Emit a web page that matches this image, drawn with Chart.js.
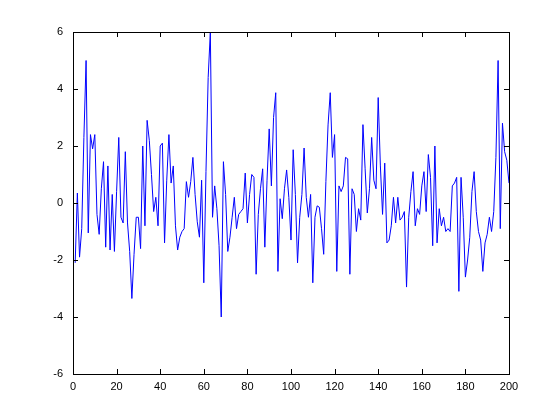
<!DOCTYPE html>
<html><head><meta charset="utf-8">
<script src="https://cdn.jsdelivr.net/npm/chart.js@4"></script>
<style>html,body{margin:0;padding:0;background:#fff}</style>
</head><body>
<canvas id="c" width="560" height="420"></canvas>
<script>
const xTicks = [0, 20, 40, 60, 80, 100, 120, 140, 160, 180, 200];
const yTicks = [-6, -4, -2, 0, 2, 4, 6];
const values = [
  -2.1, 0.35, -1.9, -0.9, 2.3, 5.0, -1.05, 2.4, 1.9, 2.4,
  -0.4, -1.1, 0.5, 1.45, -1.55, 1.3, -1.65, 0.3, -1.7, 0.4,
  2.3, -0.5, -0.7, 1.8, -0.7, -1.7, -3.35, -1.8, -0.5, -0.5,
  -1.6, 2.0, -0.8, 2.9, 2.2, 1.0, -0.3, 0.2, -0.8, 2.0,
  2.1, -1.4, 0.8, 2.4, 0.7, 1.3, -0.8, -1.65, -1.2, -1.0,
  -0.9, 0.75, 0.2, 0.75, 1.6, 0.3, -0.66, -1.2, 0.8, -2.8,
  1.1, 4.4, 6.0, -0.5, 0.6, -0.2, -1.5, -4.0, 1.45, 0.3,
  -1.7, -1.2, -0.5, 0.2, -0.9, -0.4, -0.3, -0.2, 1.05, -0.7,
  0.3, 1.0, 0.9, -2.5, -0.4, 0.5, 1.2, -1.55, 0.8, 2.6,
  0.6, 3.0, 3.87, -2.4, 0.15, -0.55, 0.5, 1.16, 0.2, -1.3,
  1.87, 0.3, -2.1, -0.5, 0.3, 1.93, 0.2, -0.5, 0.3, -2.8,
  -0.5, -0.1, -0.15, -0.9, -1.8, 0.75, 2.74, 3.87, 1.6, 2.4,
  -2.4, 0.6, 0.4, 0.6, 1.6, 1.55, -2.5, 0.5, 0.3, -1.0,
  -0.2, -0.6, 2.75, 1.2, -0.35, 0.5, 2.3, 0.8, 0.5, 3.7,
  1.3, -0.4, 1.4, -1.4, -1.3, -0.8, 0.2, -0.7, 0.2, -0.6,
  -0.5, -0.3, -2.95, -0.5, 0.4, 1.1, -0.8, -0.2, -0.4, 0.6,
  1.1, -0.3, 1.7, 0.9, -1.5, 2.0, -1.4, -0.2, -0.8, -0.5,
  -1.0, -0.9, -1.0, 0.6, 0.7, 0.9, -3.1, 0.9, -0.5, -2.6,
  -2.0, -1.2, 0.4, 1.1, -0.3, -1.0, -1.3, -2.4, -1.4, -1.1,
  -0.5, -1.0, -0.3, 1.6, 5.0, -0.9, 2.8, 1.8, 1.5, 0.7
];
const points = values.map((v, i) => ({ x: i + 1, y: v }));

const frameTicks = {
  id: 'frameTicks',
  afterDraw(chart) {
    const { ctx, chartArea: { left, right, top, bottom }, scales: { x, y } } = chart;
    ctx.save();
    ctx.strokeStyle = '#000';
    ctx.lineWidth = 1;
    ctx.beginPath();
    xTicks.forEach(t => {
      const px = Math.round(x.getPixelForValue(t)) + 0.5;
      ctx.moveTo(px, bottom); ctx.lineTo(px, bottom - 5);
      ctx.moveTo(px, top); ctx.lineTo(px, top + 5);
    });
    yTicks.forEach(t => {
      const py = Math.round(y.getPixelForValue(t)) + 0.5;
      ctx.moveTo(left, py); ctx.lineTo(left + 5, py);
      ctx.moveTo(right, py); ctx.lineTo(right - 5, py);
    });
    ctx.stroke();
    ctx.strokeRect(Math.round(left) + 0.5, Math.round(top) + 0.5, Math.round(right - left), Math.round(bottom - top));
    ctx.restore();
  }
};

const font = { family: 'Liberation Sans, Arial, Helvetica, sans-serif', size: 11 };

new Chart(document.getElementById('c'), {
  type: 'line',
  data: {
    datasets: [{
      data: points,
      borderColor: '#0000ff',
      borderWidth: 1,
      pointRadius: 0,
      tension: 0,
      fill: false
    }]
  },
  options: {
    responsive: false,
    animation: false,
    events: [],
    layout: { padding: { left: 0, right: 51, top: 32, bottom: 0 } },
    plugins: { legend: { display: false }, tooltip: { enabled: false } },
    scales: {
      x: {
        type: 'linear', min: 0, max: 200,
        afterBuildTicks: s => { s.ticks = xTicks.map(v => ({ value: v })); },
        afterFit: s => { s.height = 46; },
        grid: { display: false, drawTicks: false },
        border: { display: false },
        ticks: { color: '#000', font, padding: 6, maxRotation: 0, autoSkip: false }
      },
      y: {
        type: 'linear', min: -6, max: 6,
        afterBuildTicks: s => { s.ticks = yTicks.map(v => ({ value: v })); },
        afterFit: s => { s.width = 73; },
        grid: { display: false, drawTicks: false },
        border: { display: false },
        ticks: { color: '#000', font, padding: 10, autoSkip: false }
      }
    }
  },
  plugins: [frameTicks]
});
</script>
</body></html>
